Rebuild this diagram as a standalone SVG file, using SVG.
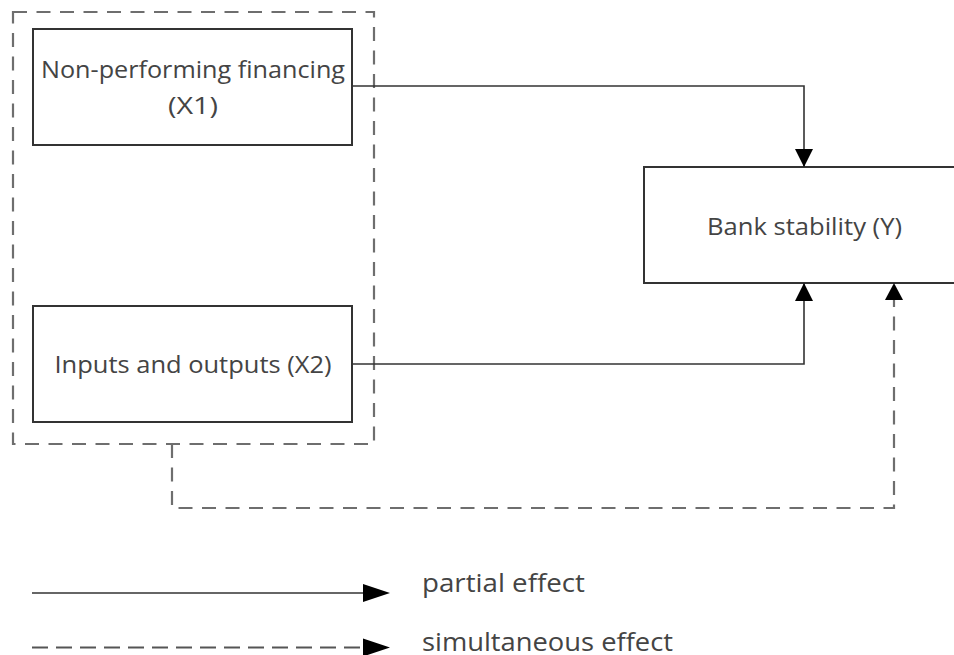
<svg xmlns="http://www.w3.org/2000/svg" width="954" height="655" viewBox="0 0 954 655">
<style>
.box{fill:#fff;stroke:#333;stroke-width:2}
.lbl{font-family:"Open Sans","Liberation Sans",sans-serif;font-size:23px;fill:#444}
.leg{font-family:"Open Sans","Liberation Sans",sans-serif;font-size:25px;fill:#444}
.solid{fill:none;stroke:#333;stroke-width:1.6}
.dash{fill:none;stroke:#6e6e6e;stroke-width:2.2;stroke-dasharray:14 9.5}
</style>
<defs>
<marker id="ah" markerUnits="userSpaceOnUse" markerWidth="20" markerHeight="20" viewBox="0 0 20 20" refX="18" refY="10" orient="auto">
<path d="M0,1 L18,10 L0,19 Z" fill="#000"/>
</marker>
</defs>
<rect x="0" y="0" width="954" height="655" fill="#fff"/>
<g id="group-box">
<rect class="dash" x="13" y="12" width="361" height="432"/>
</g>
<g id="x1">
<rect class="box" x="33" y="29" width="319" height="116"/>
<text class="lbl" x="193" y="78" text-anchor="middle" textLength="304" lengthAdjust="spacingAndGlyphs">Non-performing financing</text>
<text class="lbl" x="193" y="114" text-anchor="middle" textLength="50" lengthAdjust="spacingAndGlyphs">(X1)</text>
</g>
<g id="x2">
<rect class="box" x="33" y="306" width="319" height="116"/>
<text class="lbl" x="193" y="373" text-anchor="middle" textLength="277" lengthAdjust="spacingAndGlyphs">Inputs and outputs (X2)</text>
</g>
<g id="y">
<rect class="box" x="644" y="167" width="320" height="116"/>
<text class="lbl" x="804.5" y="235" text-anchor="middle" textLength="195" lengthAdjust="spacingAndGlyphs">Bank stability (Y)</text>
</g>
<g id="connectors">
<path class="solid" d="M352,86 H804 V167" marker-end="url(#ah)"/>
<path class="solid" d="M352,364 H804 V283" marker-end="url(#ah)"/>
<path class="dash" d="M172,444 V508 H894 V300"/>
<path d="M885,300 L894,283 L903,300 Z" fill="#000"/>
</g>
<g id="legend">
<path class="solid" d="M32,593 H365"/>
<path d="M363,584 L390,593 L363,602 Z" fill="#000"/>
<text class="leg" x="422" y="592" textLength="163" lengthAdjust="spacingAndGlyphs">partial effect</text>
<path class="dash" d="M32,647.5 H364" style="stroke:#555;stroke-dasharray:16 8"/>
<path d="M363,638.5 L390,647.5 L363,656.5 Z" fill="#000"/>
<text class="leg" x="422" y="651" textLength="251" lengthAdjust="spacingAndGlyphs">simultaneous effect</text>
</g>
</svg>
